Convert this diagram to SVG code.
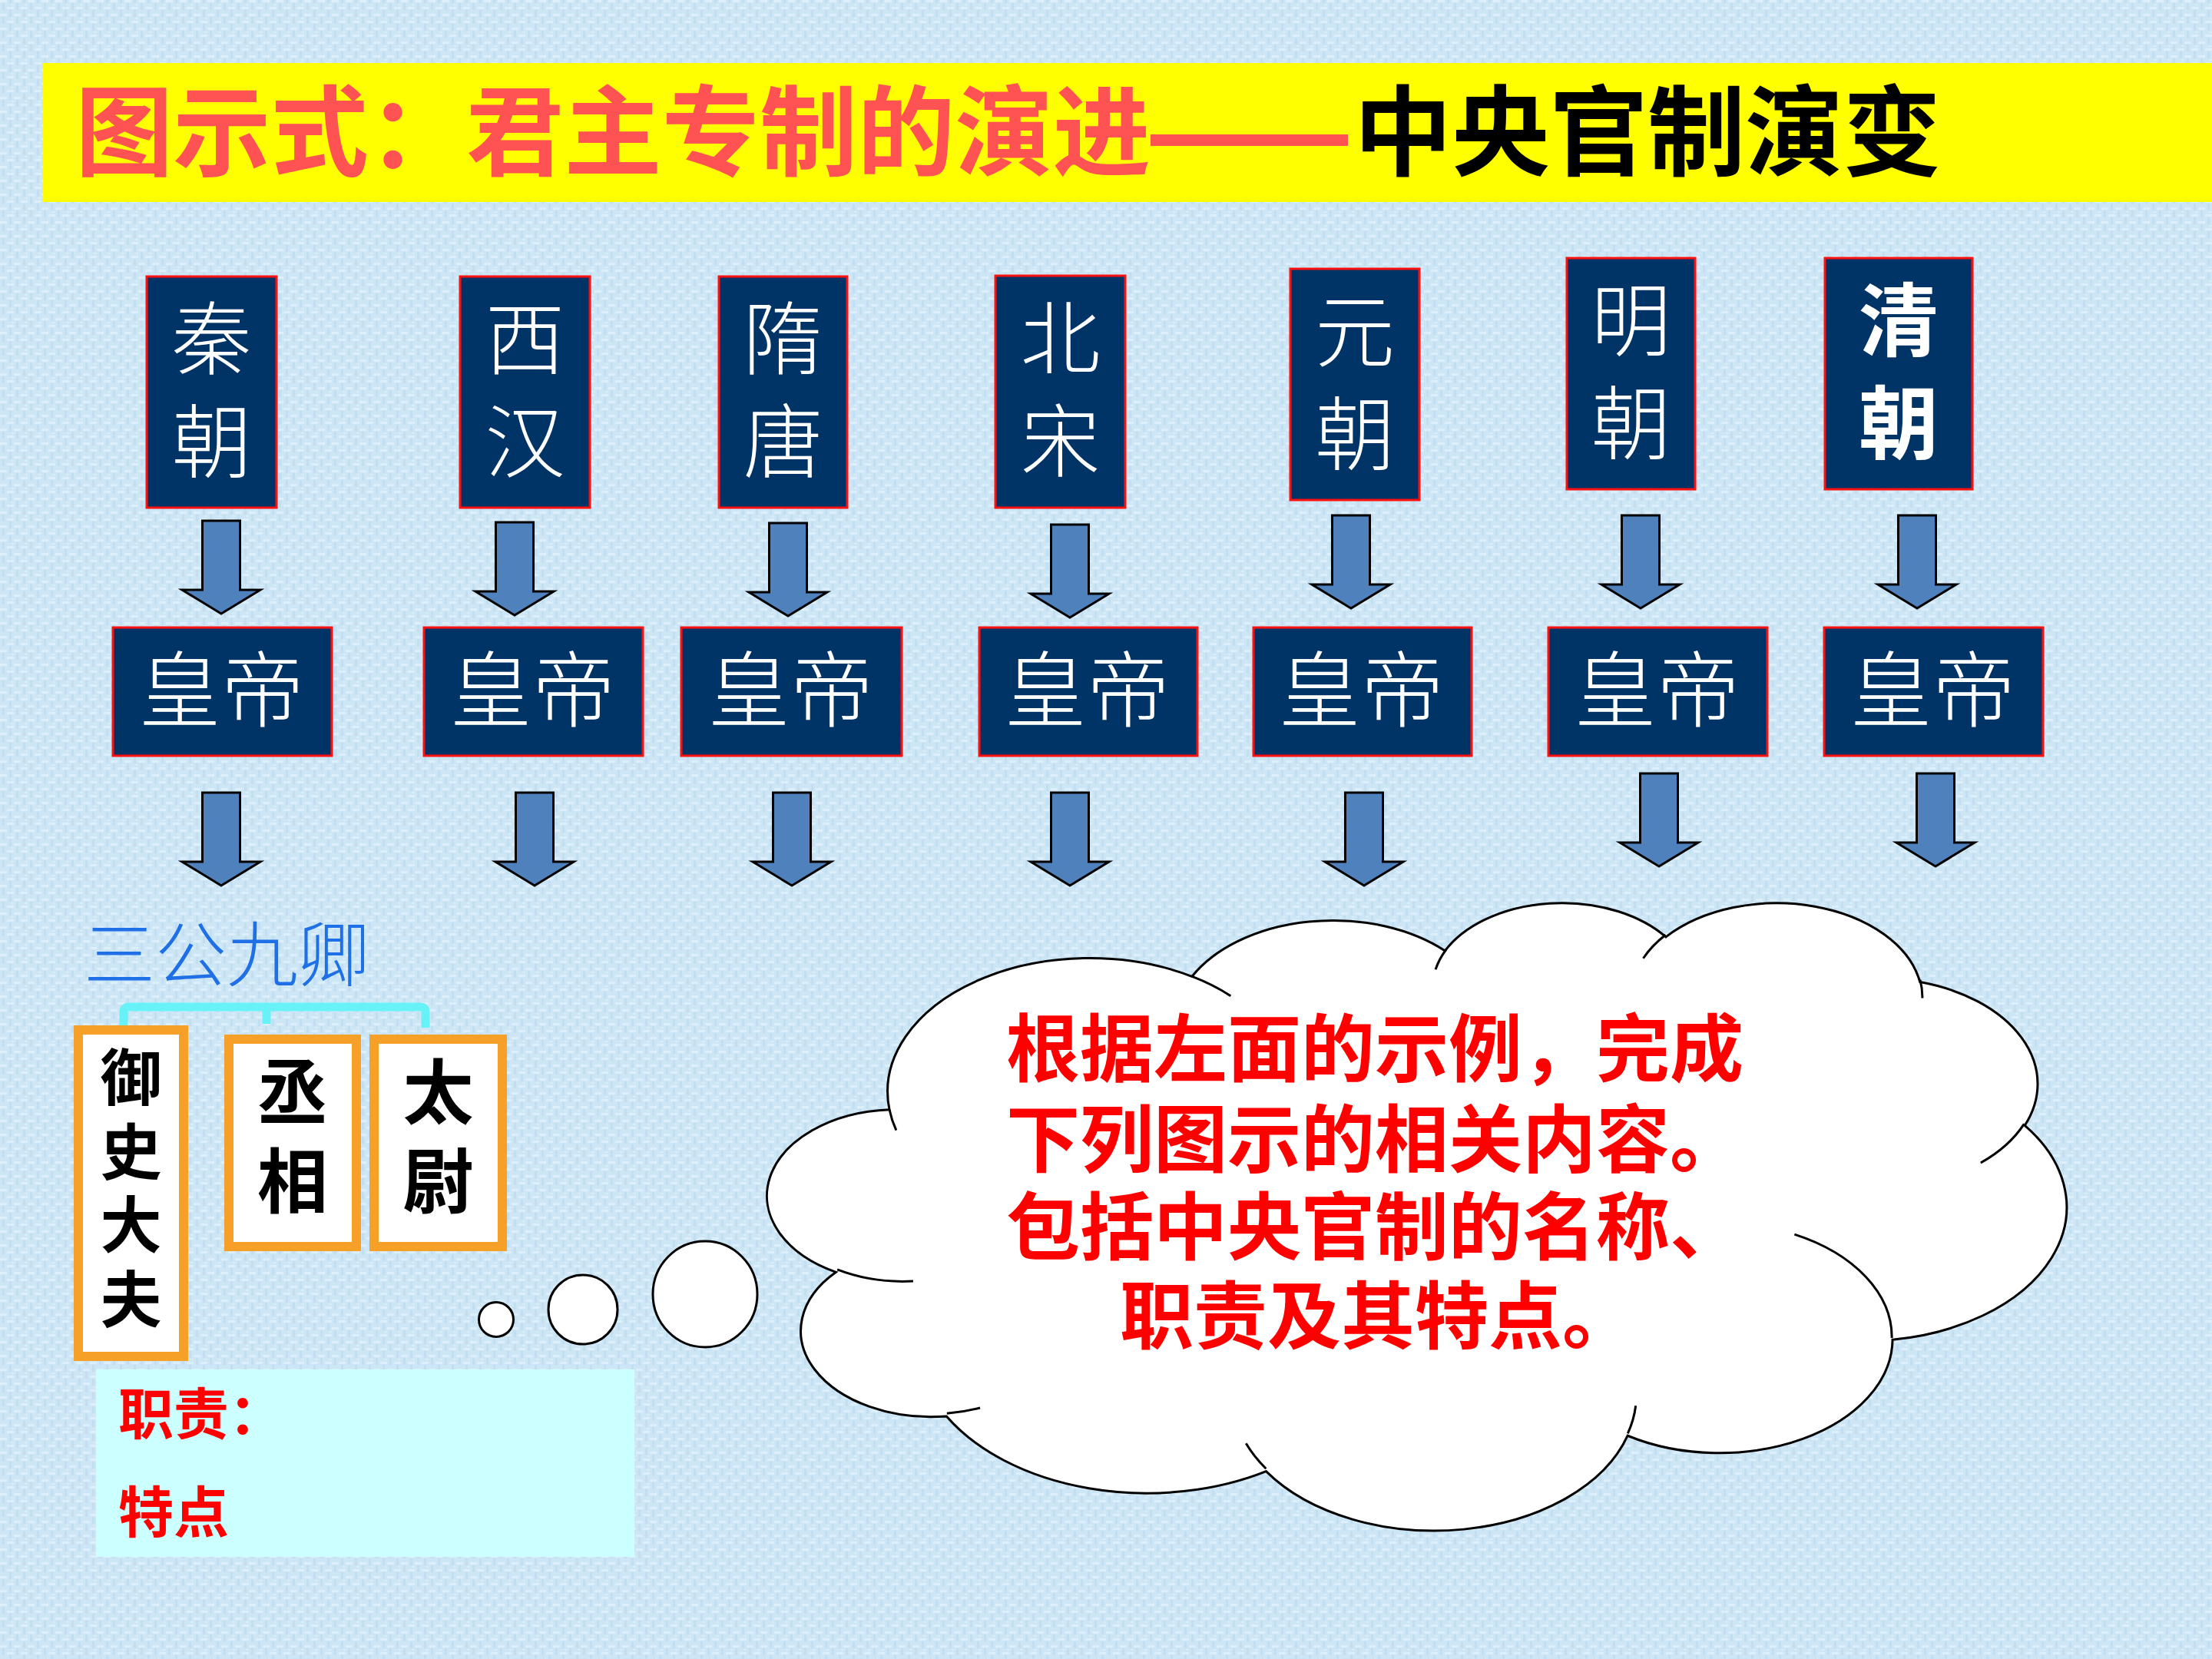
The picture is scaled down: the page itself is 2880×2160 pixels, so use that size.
<svg xmlns="http://www.w3.org/2000/svg" xmlns:xlink="http://www.w3.org/1999/xlink" width="2880" height="2160" viewBox="0 0 2880 2160">
  <defs>
    <style>
      .cjk { font-family: "Noto Sans CJK SC", "Noto Sans CJK TC", sans-serif; }
      .dyn { fill: #003366; stroke: #FF1010; stroke-width: 3; }
      .dyn-t { fill: #FFFFFF; font-size: 104px; font-weight: 300; text-anchor: middle; }
      .dyn-b { font-weight: 700; }
      .emp-t { fill: #FFFFFF; font-size: 108px; font-weight: 300; text-anchor: middle; }
      .arrow { fill: #4F81BD; stroke: #000000; stroke-width: 3; stroke-linejoin: miter; }
      .office { fill: #FFFFFF; stroke: #F7A028; stroke-width: 12; }
      .office-t { fill: #000000; font-weight: 700; text-anchor: middle; }
      .bubble { fill: #FFFFFF; stroke: #000000; stroke-width: 3; }
      .cloud-t { fill: #FF0000; font-size: 96px; font-weight: 700; }
      .note-t { fill: #FF0000; font-size: 72px; font-weight: 700; }
      .title-t { font-size: 128px; font-weight: 700; }
    </style>
    <!-- faint woven texture of the slide background -->
    <pattern id="weave" width="18" height="18" patternUnits="userSpaceOnUse">
      <rect width="18" height="18" fill="#CDE6F5"/>
      <rect x="0" y="0" width="9" height="3" fill="#DCEFFA"/>
      <rect x="9" y="9" width="9" height="3" fill="#DCEFFA"/>
      <rect x="3" y="4" width="3" height="9" fill="#C2DEF0"/>
      <rect x="12" y="13" width="3" height="5" fill="#C2DEF0"/>
      <rect x="12" y="0" width="3" height="4" fill="#C2DEF0"/>
      <rect x="14" y="5" width="4" height="2" fill="#D6ECF8"/>
    </pattern>
    <!-- block arrow pointing down, origin at top centre of the shaft -->
    <path id="down" class="arrow" d="M -24.5 0 H 24.5 V 90 H 51 L 0 121 L -51 90 H -24.5 Z"/>
  </defs>

  <!-- background -->
  <rect x="0" y="0" width="2880" height="2160" fill="url(#weave)"/>

  <!-- title banner -->
  <g id="title">
    <rect x="56" y="82" width="2824" height="181" fill="#FFFF00"/>
    <text class="cjk title-t" x="98" y="219" fill="#FF5252" textLength="1400" lengthAdjust="spacingAndGlyphs">图示式：君主专制的演进</text>
    <rect x="1498" y="175" width="257" height="15" fill="#FF5252"/>
    <text class="cjk title-t" x="1763" y="219" fill="#000000" textLength="764" lengthAdjust="spacingAndGlyphs">中央官制演变</text>
  </g>

  <!-- dynasties -->
  <g id="qin">
    <rect class="dyn" x="191" y="360" width="169" height="301"/>
    <text class="cjk dyn-t" x="275.5" y="480">秦</text>
    <text class="cjk dyn-t" x="275.5" y="614">朝</text>
  </g>
  <g id="xihan">
    <rect class="dyn" x="599" y="360" width="169" height="301"/>
    <text class="cjk dyn-t" x="683.5" y="480">西</text>
    <text class="cjk dyn-t" x="683.5" y="614">汉</text>
  </g>
  <g id="suitang">
    <rect class="dyn" x="936" y="360" width="167" height="301"/>
    <text class="cjk dyn-t" x="1019.5" y="480">隋</text>
    <text class="cjk dyn-t" x="1019.5" y="614">唐</text>
  </g>
  <g id="beisong">
    <rect class="dyn" x="1296" y="359" width="169" height="302"/>
    <text class="cjk dyn-t" x="1380.5" y="479">北</text>
    <text class="cjk dyn-t" x="1380.5" y="613">宋</text>
  </g>
  <g id="yuan">
    <rect class="dyn" x="1680" y="350" width="168" height="301"/>
    <text class="cjk dyn-t" x="1764" y="470">元</text>
    <text class="cjk dyn-t" x="1764" y="604">朝</text>
  </g>
  <g id="ming">
    <rect class="dyn" x="2040" y="336" width="167" height="301"/>
    <text class="cjk dyn-t" x="2123.5" y="456">明</text>
    <text class="cjk dyn-t" x="2123.5" y="590">朝</text>
  </g>
  <g id="qing">
    <rect class="dyn" x="2376" y="336" width="192" height="301"/>
    <text class="cjk dyn-t dyn-b" x="2472" y="456">清</text>
    <text class="cjk dyn-t dyn-b" x="2472" y="590">朝</text>
  </g>

  <!-- emperors -->
  <g id="emp-qin">
    <rect class="dyn" x="147" y="817" width="285" height="167"/>
    <text class="cjk emp-t" x="288" y="938">皇帝</text>
  </g>
  <g id="emp-xihan">
    <rect class="dyn" x="552" y="817" width="285" height="167"/>
    <text class="cjk emp-t" x="693" y="938">皇帝</text>
  </g>
  <g id="emp-suitang">
    <rect class="dyn" x="887" y="817" width="287" height="167"/>
    <text class="cjk emp-t" x="1029" y="938">皇帝</text>
  </g>
  <g id="emp-beisong">
    <rect class="dyn" x="1275" y="817" width="284" height="167"/>
    <text class="cjk emp-t" x="1415" y="938">皇帝</text>
  </g>
  <g id="emp-yuan">
    <rect class="dyn" x="1632" y="817" width="284" height="167"/>
    <text class="cjk emp-t" x="1772" y="938">皇帝</text>
  </g>
  <g id="emp-ming">
    <rect class="dyn" x="2016" y="817" width="285" height="167"/>
    <text class="cjk emp-t" x="2157" y="938">皇帝</text>
  </g>
  <g id="emp-qing">
    <rect class="dyn" x="2375" y="817" width="285" height="167"/>
    <text class="cjk emp-t" x="2516" y="938">皇帝</text>
  </g>

  <!-- connectors: block arrows and the bracket over the three ministers -->
  <g id="connectors">
    <use xlink:href="#down" x="288" y="678"/>
    <use xlink:href="#down" x="670" y="680"/>
    <use xlink:href="#down" x="1026" y="681"/>
    <use xlink:href="#down" x="1393" y="683"/>
    <use xlink:href="#down" x="1759" y="671"/>
    <use xlink:href="#down" x="2136" y="671"/>
    <use xlink:href="#down" x="2496" y="671"/>

    <use xlink:href="#down" x="288" y="1032"/>
    <use xlink:href="#down" x="696" y="1032"/>
    <use xlink:href="#down" x="1031" y="1032"/>
    <use xlink:href="#down" x="1393" y="1032"/>
    <use xlink:href="#down" x="1776" y="1032"/>
    <use xlink:href="#down" x="2160" y="1007"/>
    <use xlink:href="#down" x="2520" y="1007"/>

    <path d="M 161 1337 V 1318 Q 161 1311 168 1311 H 547 Q 554 1311 554 1318 V 1338 M 347 1311 V 1333" fill="none" stroke="#66F2F7" stroke-width="11"/>
  </g>

  <!-- Three Lords and Nine Ministers -->
  <g id="sangong">
    <text class="cjk" x="109" y="1277" font-size="93" font-weight="300" fill="#1F6FE6">三公九卿</text>
  </g>
  <g id="yushidafu">
    <rect class="office" x="102" y="1341" width="137" height="425"/>
    <text class="cjk office-t" x="170.5" y="1432" font-size="80">御</text>
    <text class="cjk office-t" x="170.5" y="1529" font-size="80">史</text>
    <text class="cjk office-t" x="170.5" y="1624" font-size="80">大</text>
    <text class="cjk office-t" x="170.5" y="1721" font-size="80">夫</text>
  </g>
  <g id="chengxiang">
    <rect class="office" x="298" y="1353" width="166" height="270"/>
    <text class="cjk office-t" x="381" y="1456" font-size="92">丞</text>
    <text class="cjk office-t" x="381" y="1572" font-size="92">相</text>
  </g>
  <g id="taiwei">
    <rect class="office" x="487" y="1353" width="167" height="270"/>
    <text class="cjk office-t" x="570.5" y="1456" font-size="92">太</text>
    <text class="cjk office-t" x="570.5" y="1572" font-size="92">尉</text>
  </g>

  <!-- duties / characteristics panel -->
  <g id="notes">
    <rect x="125" y="1783" width="701" height="244" fill="#CCFFFF"/>
    <text class="cjk note-t" x="154" y="1867">职责：</text>
    <text class="cjk note-t" x="154" y="1995">特点</text>
  </g>

  <!-- thought bubbles leading to the cloud -->
  <g id="bubbles">
    <circle class="bubble" cx="646" cy="1718" r="22.5"/>
    <circle class="bubble" cx="759" cy="1705" r="45"/>
    <ellipse class="bubble" cx="918" cy="1685" rx="68" ry="69"/>
  </g>

  <!-- cloud with the task text -->
  <g id="cloud">
    <g transform="translate(1006,1173) scale(0.038981,0.018912)">
      <path d="M 3900 14370 A 6753 9190 0 0 1 14006 5203 A 5333 7267 0 0 1 22457 3433 A 4365 5945 0 0 1 29835 2482 A 4857 6595 0 0 1 38319 5579 A 5333 7273 0 0 1 41820 15462 A 6775 9220 0 0 1 37405 30204 A 5785 7867 0 0 1 28556 36815 A 6752 9215 0 0 1 16481 39267 A 7720 10543 0 0 1 5807 35478 A 4360 5918 0 0 1 2116 25556 A 4345 5945 0 0 1 3900 14370 Z" fill="#FFFFFF" stroke="#000000" stroke-width="3" vector-effect="non-scaling-stroke"/>
      <path d="M 4693 26177 A 4345 5945 0 0 1 2159 25379 M 6928 34899 A 4360 5918 0 0 1 5819 35281 M 16478 39090 A 6752 9215 0 0 1 15810 37349 M 28827 34751 A 6752 9215 0 0 1 28561 36659 M 34129 22954 A 5785 7867 0 0 1 37381 30090 M 41798 15354 A 5333 7273 0 0 1 40349 18031 M 38324 5426 A 4857 6595 0 0 1 38400 6690 M 29078 3952 A 4857 6595 0 0 1 29821 2338 M 22141 4720 A 4365 5945 0 0 1 22500 3331 M 14000 5192 A 6753 9190 0 0 1 15299 6539 M 4127 15789 A 6753 9190 0 0 1 3900 14370" fill="none" stroke="#000000" stroke-width="3" vector-effect="non-scaling-stroke"/>
    </g>
    <text class="cjk cloud-t" x="1310" y="1400">根据左面的示例，完成</text>
    <text class="cjk cloud-t" x="1310" y="1518">下列图示的相关内容。</text>
    <text class="cjk cloud-t" x="1310" y="1632">包括中央官制的名称、</text>
    <text class="cjk cloud-t" x="1458" y="1748">职责及其特点。</text>
  </g>
</svg>
